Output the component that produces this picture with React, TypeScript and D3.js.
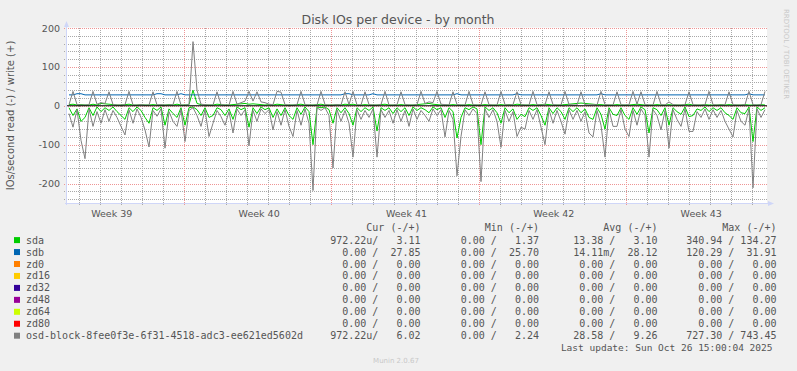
import React from 'react';
import * as d3 from 'd3';

// time span of the month graph (33 days ending at last update)
const timeStart = new Date(Date.UTC(2025, 8, 23, 10, 40));
const timeEnd = new Date(Date.UTC(2025, 9, 26, 16, 45));

const weekLabels = ['Week 39', 'Week 40', 'Week 41', 'Week 42', 'Week 43'];
const weekMondays = ['2025-09-22', '2025-09-29', '2025-10-06', '2025-10-13', '2025-10-20'];
const yTicks = [-200, -100, 0, 100, 200];

// osd-block read (-) / write (+)
const osdRead = [
  -20, -55, -10, -89, -136, -8, -53, -15, -45, -10, -40, -12, -30, -53, -75, -10, -45, -8, -30, -62, -106, -12, -27, -8, -109,
  -15, -40, -53, -10, -92, -12, -5, -25, -53, -10, -79, -45, -12, -28, -50, -15, -70, -8, -25, -10, -103, -12, -40, -8, -20,
  -10, -62, -15, -50, -10, -53, -79, -12, -50, -8, -45, -218, -5, -12, -5, -25, -160, -10, -40, -12, -45, -132, -10, -35, -12,
  -30, -8, -132, -10, -30, -12, -45, -10, -40, -12, -53, -8, -35, -12, -25, -40, -8, -25, -10, -80, -12, -35, -180, -79, -10,
  -25, -8, -20, -195, -8, -30, -10, -40, -107, -12, -40, -15, -79, -55, -60, -12, -35, -10, -55, -100, -10, -45, -12, -40, -73,
  -10, -35, -12, -40, -15, -70, -80, -12, -50, -132, -10, -53, -53, -10, -60, -79, -12, -50, -8, -25, -132, -10, -25, -62, -12,
  -109, -10, -35, -53, -8, -66, -66, -15, -30, -8, -35, -10, -30, -12, -40, -60, -80, -12, -40, -50, -8, -211, -8, -30, -10,
];
const osdWrite = [
  3, 37, 3, 2, 2, 3, 37, 4, 8, 6, 36, 3, 2, 2, 3, 37, 2, 2, 3, 2, 2, 36, 2, 3, 2,
  2, 3, 37, 2, 2, 3, 165, 40, 4, 3, 2, 2, 36, 3, 2, 2, 37, 4, 8, 12, 37, 12, 36, 10, 8,
  4, 3, 37, 35, 3, 2, 2, 3, 37, 3, 2, 2, 2, 37, 3, 2, 2, 3, 2, 36, 3, 37, 2, 2, 36,
  3, 2, 2, 3, 37, 2, 2, 3, 36, 3, 2, 2, 3, 37, 6, 10, 8, 37, 4, 3, 2, 36, 3, 2, 2,
  37, 3, 2, 2, 36, 3, 2, 2, 37, 3, 2, 3, 36, 3, 2, 2, 37, 3, 2, 3, 36, 3, 2, 2, 37,
  3, 2, 2, 36, 3, 2, 3, 2, 37, 3, 2, 2, 36, 3, 2, 3, 37, 4, 36, 3, 2, 2, 37, 3, 2,
  10, 3, 2, 2, 3, 36, 3, 2, 2, 3, 37, 3, 2, 2, 3, 36, 3, 2, 2, 3, 37, 3, 2, 3, 37,
];

// sda read (-) / write (+)
const sdaRead = [
  -5, -25, -8, -40, -30, -5, -25, -3, -15, -5, -12, -3, -15, -25, -35, -5, -15, -3, -12, -30, -45, -5, -12, -3, -50,
  -8, -20, -30, -5, -50, -5, -3, -10, -25, -5, -30, -25, -5, -10, -25, -8, -35, -3, -10, -5, -55, -5, -20, -3, -10,
  -5, -30, -8, -25, -5, -25, -35, -5, -22, -3, -15, -100, -3, -5, -3, -10, -45, -5, -18, -5, -20, -50, -5, -15, -5,
  -12, -3, -65, -5, -12, -5, -20, -5, -15, -5, -25, -3, -12, -5, -10, -18, -3, -10, -5, -30, -5, -15, -83, -30, -5,
  -10, -3, -8, -100, -3, -12, -5, -18, -45, -5, -18, -8, -35, -22, -28, -5, -12, -5, -25, -50, -5, -20, -5, -15, -35,
  -5, -15, -5, -18, -8, -30, -35, -5, -22, -60, -5, -22, -25, -5, -25, -35, -5, -22, -3, -10, -70, -5, -10, -25, -5,
  -50, -5, -15, -22, -3, -28, -25, -8, -12, -3, -15, -5, -12, -5, -18, -25, -35, -5, -18, -20, -3, -92, -3, -12, -5,
];
const sdaWrite = [
  3, 4, 2, 3, 2, 2, 4, 2, 6, 5, 4, 3, 2, 2, 3, 4, 2, 2, 3, 2, 2, 3, 2, 2, 2,
  3, 2, 4, 2, 2, 3, 40, 6, 3, 2, 2, 2, 4, 3, 2, 2, 3, 4, 5, 6, 4, 5, 4, 3, 2,
  3, 2, 4, 3, 2, 2, 2, 3, 4, 2, 2, 2, 3, 4, 2, 2, 2, 3, 2, 4, 3, 4, 2, 2, 3,
  2, 2, 2, 3, 4, 2, 2, 2, 3, 2, 2, 2, 3, 4, 5, 6, 4, 3, 2, 2, 2, 3, 2, 2, 2,
  3, 2, 2, 2, 3, 2, 2, 2, 3, 2, 3, 2, 4, 3, 2, 2, 3, 2, 3, 4, 3, 2, 2, 2, 3,
  4, 5, 6, 7, 6, 5, 4, 3, 3, 2, 2, 2, 3, 2, 2, 2, 3, 4, 3, 2, 2, 2, 3, 2, 2,
  3, 2, 2, 2, 3, 4, 2, 2, 2, 3, 2, 2, 2, 3, 2, 3, 2, 2, 2, 3, 2, 2, 2, 3, 2,
];

// sdb write (+)
const sdbWrite = [
  28, 28, 31, 31, 28, 28, 28, 28, 28, 28, 28, 28, 28, 28, 28, 28, 28, 28, 28, 28, 28, 28, 31, 31, 28,
  28, 28, 28, 31, 28, 28, 28, 28, 28, 28, 28, 28, 28, 28, 28, 28, 28, 28, 28, 28, 28, 28, 28, 28, 28,
  28, 28, 28, 28, 28, 28, 28, 28, 28, 28, 28, 28, 28, 28, 28, 28, 28, 28, 28, 31, 31, 28, 28, 28, 28,
  28, 31, 28, 28, 28, 28, 28, 28, 28, 28, 28, 28, 28, 28, 28, 28, 28, 28, 28, 28, 28, 28, 31, 28, 28,
  28, 28, 28, 28, 28, 28, 28, 28, 28, 28, 28, 28, 31, 28, 28, 28, 28, 28, 28, 28, 28, 28, 28, 28, 28,
  28, 28, 28, 28, 28, 28, 28, 28, 31, 28, 28, 28, 28, 28, 28, 28, 28, 28, 28, 28, 28, 28, 28, 28, 28,
  28, 28, 28, 28, 28, 28, 28, 28, 28, 28, 28, 28, 28, 28, 28, 28, 28, 28, 28, 28, 31, 28, 28, 28, 28,
];

// legend
const legendNames = ['sda', 'sdb', 'zd0', 'zd16', 'zd32', 'zd48', 'zd64', 'zd80', 'osd-block-8fee0f3e-6f31-4518-adc3-ee621ed5602d'];
const legendColors = ['#00CC00', '#0066B3', '#FF8000', '#FFCC00', '#330099', '#990099', '#CCFF00', '#FF0000', '#808080'];
const legendHeaders = ['Cur (-/+)', 'Min (-/+)', 'Avg (-/+)', 'Max (-/+)'];
const curValues = ['972.22u/   3.11', '0.00 /  27.85', '0.00 /   0.00', '0.00 /   0.00', '0.00 /   0.00', '0.00 /   0.00', '0.00 /   0.00', '0.00 /   0.00', '972.22u/   6.02'];
const minValues = ['0.00 /   1.37', '0.00 /  25.70', '0.00 /   0.00', '0.00 /   0.00', '0.00 /   0.00', '0.00 /   0.00', '0.00 /   0.00', '0.00 /   0.00', '0.00 /   2.24'];
const avgValues = ['13.38 /   3.10', '14.11m/  28.12', '0.00 /   0.00', '0.00 /   0.00', '0.00 /   0.00', '0.00 /   0.00', '0.00 /   0.00', '0.00 /   0.00', '28.58 /   9.26'];
const maxValues = ['340.94 / 134.27', '120.29 /  31.91', '0.00 /   0.00', '0.00 /   0.00', '0.00 /   0.00', '0.00 /   0.00', '0.00 /   0.00', '0.00 /   0.00', '727.30 / 743.45'];

const W = 797;
const H = 371;
const left = 67, right = 767, top = 28, bottom = 203;
const FONT = 'DejaVu Sans, sans-serif';
const MONO = 'DejaVu Sans Mono, monospace';
const TXT = '#555';
const AXIS = '#CFD6F8';

const App: React.FC = () => {
  const x = d3.scaleUtc().domain([timeStart, timeEnd]).range([left, right]);
  const y = d3.scaleLinear().domain([-250, 200]).range([bottom, top]);

  const n = osdRead.length;
  const stepMs = (+timeEnd - +timeStart) / n;
  const times = d3.range(n).map(i => new Date(+timeStart + (i + 0.5) * stepMs));
  const line = d3.line<number>()
    .x((_, i) => x(times[i]))
    .y(d => y(d));
  const path = (vals: number[]) => line(vals) || '';

  const days = d3.utcDay.range(d3.utcDay.ceil(timeStart), timeEnd);
  const mondays = weekMondays.map(s => new Date(s + 'T00:00:00Z'));
  const minorY = d3.range(-240, 201, 20).filter(v => v % 100 !== 0);
  const px = (v: number) => Math.round(v) + 0.5;

  const colEnds = [420.5, 539, 657.5, 776.5];
  const cols = [curValues, minValues, avgValues, maxValues];
  const rowY = (k: number) => 243.6 + k * 11.95;

  return (
    <svg width={W} height={H} style={{ position: 'absolute', left: 0, top: 0, display: 'block' }}>
      <rect x={0} y={0} width={W} height={H} fill="#F0F0F0" />
      <rect x={left - 0.5} y={top - 0.5} width={right - left + 0.5} height={bottom - top + 0.5} fill="#FFFFFF" />

      {/* minor grid */}
      <g stroke="#A8A8A8" strokeWidth={1} strokeDasharray="1,1">
        {days.filter(d => d.getUTCDay() !== 1).map((d, i) => (
          <line key={'vd' + i} x1={px(x(d))} x2={px(x(d))} y1={top} y2={bottom + 3} />
        ))}
        {minorY.map(v => (
          <line key={'hm' + v} x1={left - 3} x2={right} y1={px(y(v))} y2={px(y(v))} />
        ))}
      </g>
      {/* major grid */}
      <g stroke="#EE9595" strokeWidth={1} strokeDasharray="1,1">
        {mondays.filter(d => d > timeStart).map((d, i) => (
          <line key={'vm' + i} x1={px(x(d))} x2={px(x(d))} y1={top} y2={bottom + 3} />
        ))}
        {yTicks.map(v => (
          <line key={'hM' + v} x1={left - 3} x2={right} y1={px(y(v))} y2={px(y(v))} />
        ))}
      </g>

      {/* series, drawn in munin order */}
      <g fill="none" strokeWidth={1}>
        <path d={path(sdaRead)} stroke="#00CC00" />
        <path d={path(sdaWrite)} stroke="#00CC00" />
        <path d={path(sdbWrite)} stroke="#0066B3" />
        <path d={path(osdRead)} stroke="#808080" />
        <path d={path(osdWrite)} stroke="#808080" />
      </g>
      <line x1={left} x2={right} y1={y(0)} y2={y(0)} stroke="#000" strokeWidth={1.1} />

      {/* axes */}
      <g stroke={AXIS} strokeWidth={1} shapeRendering="crispEdges">
        <line x1={left - 0.5} x2={left - 0.5} y1={bottom + 2} y2={top - 4} />
        <line x1={left - 2} x2={right + 4} y1={bottom + 0.5} y2={bottom + 0.5} />
      </g>
      <path d={`M${left - 0.5},${top - 7} L${left - 3},${top - 1} L${left + 2},${top - 1} Z`} fill={AXIS} />
      <path d={`M${right + 7},${bottom + 0.5} L${right + 1},${bottom - 2} L${right + 1},${bottom + 3} Z`} fill={AXIS} />

      {/* y tick labels */}
      <g fontFamily={FONT} fontSize={9.5} fill={TXT} textAnchor="end">
        {yTicks.map(v => (
          <text key={'yl' + v} x={left - 7} y={y(v) + 3.5}>{v}</text>
        ))}
      </g>
      {/* x labels */}
      <g fontFamily={FONT} fontSize={9.5} fill={TXT} textAnchor="middle">
        {weekLabels.map((lab, i) => (
          <text key={lab} x={x(new Date(+mondays[i] + 3.5 * 864e5)) + 1.5} y={217}>{lab}</text>
        ))}
      </g>

      {/* title and axis label */}
      <text x={398} y={24} textAnchor="middle" fontFamily={FONT} fontSize={12.5} fill={TXT}>
        Disk IOs per device - by month
      </text>
      <text transform={`translate(14,${(top + bottom) / 2}) rotate(-90)`} textAnchor="middle" fontFamily={FONT} fontSize={10} fill={TXT}>
        IOs/second read (-) / write (+)
      </text>
      <text transform="translate(784,54) rotate(90)" textAnchor="middle" fontFamily={FONT} fontSize={7} fill="#C8C8C8">
        RRDTOOL / TOBI OETIKER
      </text>

      {/* legend */}
      <g fontFamily={MONO} fontSize={10} fill={TXT}>
        {legendHeaders.map((h, j) => (
          <text key={h} x={colEnds[j]} y={231.3} textAnchor="end" xmlSpace="preserve" style={{ whiteSpace: 'pre' }}>{h}</text>
        ))}
        {legendNames.map((name, k) => (
          <g key={name}>
            <rect x={14} y={rowY(k) - 6.5} width={6} height={6} fill={legendColors[k]} />
            <text x={26} y={rowY(k)}>{name}</text>
            {cols.map((c, j) => (
              <text key={j} x={colEnds[j]} y={rowY(k)} textAnchor="end" xmlSpace="preserve" style={{ whiteSpace: 'pre' }}>{c[k]}</text>
            ))}
          </g>
        ))}
        <text x={772.5} y={351.2} textAnchor="end" fontSize={9.5}>Last update: Sun Oct 26 15:00:04 2025</text>
      </g>
      <text x={396} y={362.5} textAnchor="middle" fontFamily={FONT} fontSize={7} fill="#C8C8C8">Munin 2.0.67</text>
    </svg>
  );
};

export default App;
